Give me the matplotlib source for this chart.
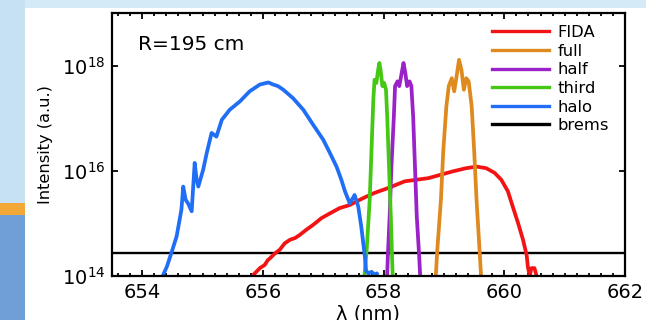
import numpy as np
import matplotlib
matplotlib.use("Agg")
import matplotlib.pyplot as plt
from matplotlib.patches import Rectangle
from matplotlib.ticker import FixedLocator, MultipleLocator, LogFormatterMathtext, NullLocator

# ---- spectra: wavelength (nm) and log10 of intensity (a.u.) ----
halo_wl = [654.30, 654.34, 654.41, 654.49, 654.57, 654.65, 654.68, 654.72, 654.76, 654.82,
           654.87, 654.90, 654.93, 655.01, 655.07, 655.15, 655.23, 655.32, 655.45, 655.62,
           655.78, 655.95, 656.09, 656.17, 656.25, 656.34, 656.50, 656.67, 656.83, 657.00,
           657.11, 657.22, 657.30, 657.36, 657.44, 657.52, 657.58, 657.63, 657.69, 657.71,
           657.75, 657.80, 657.85, 657.89, 657.90]
halo_log = [13.6, 14.00, 14.18, 14.46, 14.75, 15.26, 15.70, 15.45, 15.38, 15.23,
            16.15, 15.85, 15.70, 16.02, 16.34, 16.72, 16.65, 16.97, 17.16, 17.32,
            17.51, 17.64, 17.68, 17.64, 17.61, 17.54, 17.38, 17.16, 16.88, 16.59,
            16.34, 16.08, 15.83, 15.61, 15.38, 15.54, 15.32, 14.94, 14.37, 14.10,
            14.05, 14.08, 14.03, 14.05, 13.6]

fida_wl = [655.75, 655.84, 655.95, 656.03, 656.08, 656.12, 656.20, 656.28, 656.36, 656.45,
           656.53, 656.61, 656.72, 656.83, 656.97, 657.11, 657.27, 657.44, 657.66, 657.85,
           658.07, 658.35, 658.74, 658.93, 659.15, 659.37, 659.54, 659.70, 659.84, 659.95,
           660.06, 660.14, 660.23, 660.31, 660.37, 660.39, 660.42, 660.45, 660.50, 660.53,
           660.55]
fida_log = [13.7, 14.02, 14.15, 14.21, 14.30, 14.34, 14.43, 14.50, 14.62, 14.69,
            14.72, 14.78, 14.88, 14.97, 15.10, 15.19, 15.29, 15.35, 15.48, 15.58,
            15.67, 15.80, 15.86, 15.92, 15.99, 16.05, 16.08, 16.05, 15.96, 15.83,
            15.61, 15.32, 15.00, 14.69, 14.40, 14.18, 14.00, 14.15, 14.15, 14.02,
            13.7]

third_wl = [657.66, 657.72, 657.77, 657.80, 657.83, 657.85, 657.88, 657.91, 657.93, 657.95,
            657.98, 658.01, 658.04, 658.06, 658.09, 658.12, 658.14, 658.16]
third_log = [13.7, 14.5, 15.45, 16.4, 17.35, 17.73, 17.67, 17.92, 18.05, 17.92,
             17.61, 17.67, 17.54, 17.03, 16.08, 15.13, 14.37, 13.7]

half_wl = [658.05, 658.07, 658.10, 658.13, 658.17, 658.19, 658.23, 658.26, 658.30, 658.33,
           658.36, 658.39, 658.43, 658.46, 658.49, 658.52, 658.55, 658.59, 658.62]
half_log = [13.7, 14.37, 15.13, 16.08, 17.03, 17.61, 17.70, 17.61, 17.86, 18.05,
            17.86, 17.61, 17.70, 17.61, 17.03, 16.08, 15.13, 14.37, 13.7]

full_wl = [658.85, 658.89, 658.95, 658.99, 659.04, 659.08, 659.13, 659.17, 659.21, 659.25,
           659.29, 659.33, 659.37, 659.41, 659.46, 659.50, 659.54, 659.59, 659.63]
full_log = [13.7, 14.5, 15.45, 16.4, 17.22, 17.61, 17.76, 17.51, 17.80, 18.11,
            17.92, 17.54, 17.76, 17.70, 17.22, 16.4, 15.45, 14.5, 13.7]

brems_wl = [653.5, 662.0]
brems_log = [14.44, 14.44]

x_ticks = [654, 656, 658, 660, 662]
y_ticks = [1e14, 1e16, 1e18]

colors = {
    "FIDA": "#f21414",
    "full": "#de8a1e",
    "half": "#9a22c8",
    "third": "#44c814",
    "halo": "#1f6ef5",
    "brems": "#000000",
}

plt.rcParams["font.family"] = ["DejaVu Sans"]

fig = plt.figure(figsize=(6.46, 3.2), dpi=100)
fig.patch.set_facecolor("#d4eaf6")

# slide backdrop: white panel, left strip with orange band and blue lower part
fig.patches.append(Rectangle((0, 0), 25 / 646, 1, transform=fig.transFigure,
                             facecolor="#c6e1f2", edgecolor="none", zorder=-3))
fig.patches.append(Rectangle((0, 0), 25 / 646, 105 / 320, transform=fig.transFigure,
                             facecolor="#6f9fd6", edgecolor="none", zorder=-2))
fig.patches.append(Rectangle((0, 105 / 320), 25 / 646, 12 / 320, transform=fig.transFigure,
                             facecolor="#f2a836", edgecolor="none", zorder=-2))
fig.patches.append(Rectangle((25 / 646, 0), 1, 1 - 8 / 320, transform=fig.transFigure,
                             facecolor="white", edgecolor="none", zorder=-1))

ax = fig.add_axes([112 / 646, 1 - 276 / 320, 513 / 646, 263 / 320])
ax.set_facecolor("white")

lw = 2.7
ax.plot(brems_wl, 10.0 ** np.array(brems_log), color=colors["brems"], lw=1.7, label="brems")
ax.plot(fida_wl, 10.0 ** np.array(fida_log), color=colors["FIDA"], lw=lw, label="FIDA")
ax.plot(full_wl, 10.0 ** np.array(full_log), color=colors["full"], lw=lw, label="full")
ax.plot(half_wl, 10.0 ** np.array(half_log), color=colors["half"], lw=lw, label="half")
ax.plot(third_wl, 10.0 ** np.array(third_log), color=colors["third"], lw=lw, label="third")
ax.plot(halo_wl, 10.0 ** np.array(halo_log), color=colors["halo"], lw=lw, label="halo")

ax.set_yscale("log")
ax.set_xlim(653.5, 662)
ax.set_ylim(1e14, 1e19)

ax.xaxis.set_major_locator(FixedLocator(x_ticks))
ax.xaxis.set_minor_locator(MultipleLocator(0.2))
ax.yaxis.set_major_locator(FixedLocator(y_ticks))
ax.yaxis.set_major_formatter(LogFormatterMathtext())
ax.yaxis.set_minor_locator(NullLocator())

ax.tick_params(which="both", direction="in", top=True, right=True, width=1.3, labelsize=14)
ax.tick_params(which="major", length=4.5, pad=5)
ax.tick_params(which="minor", length=2.5)
for s in ax.spines.values():
    s.set_linewidth(1.6)

ax.set_xlabel("λ (nm)", fontsize=14, labelpad=2)
ax.set_ylabel("Intensity (a.u.)", fontsize=11.7, labelpad=6)

ax.text(653.93, 10 ** 18.4, "R=195 cm", fontsize=14.5, va="center", ha="left")

handles, labels = ax.get_legend_handles_labels()
order = ["FIDA", "full", "half", "third", "halo", "brems"]
hmap = dict(zip(labels, handles))
leg = ax.legend([hmap[k] for k in order], order, loc="upper right", frameon=False,
                fontsize=11.8, handlelength=3.5, handletextpad=0.5, labelspacing=0.22,
                borderaxespad=0.1, bbox_to_anchor=(0.985, 0.985))
for line in leg.get_lines():
    line.set_linewidth(2.4)

fig.savefig("out.png", dpi=100)
